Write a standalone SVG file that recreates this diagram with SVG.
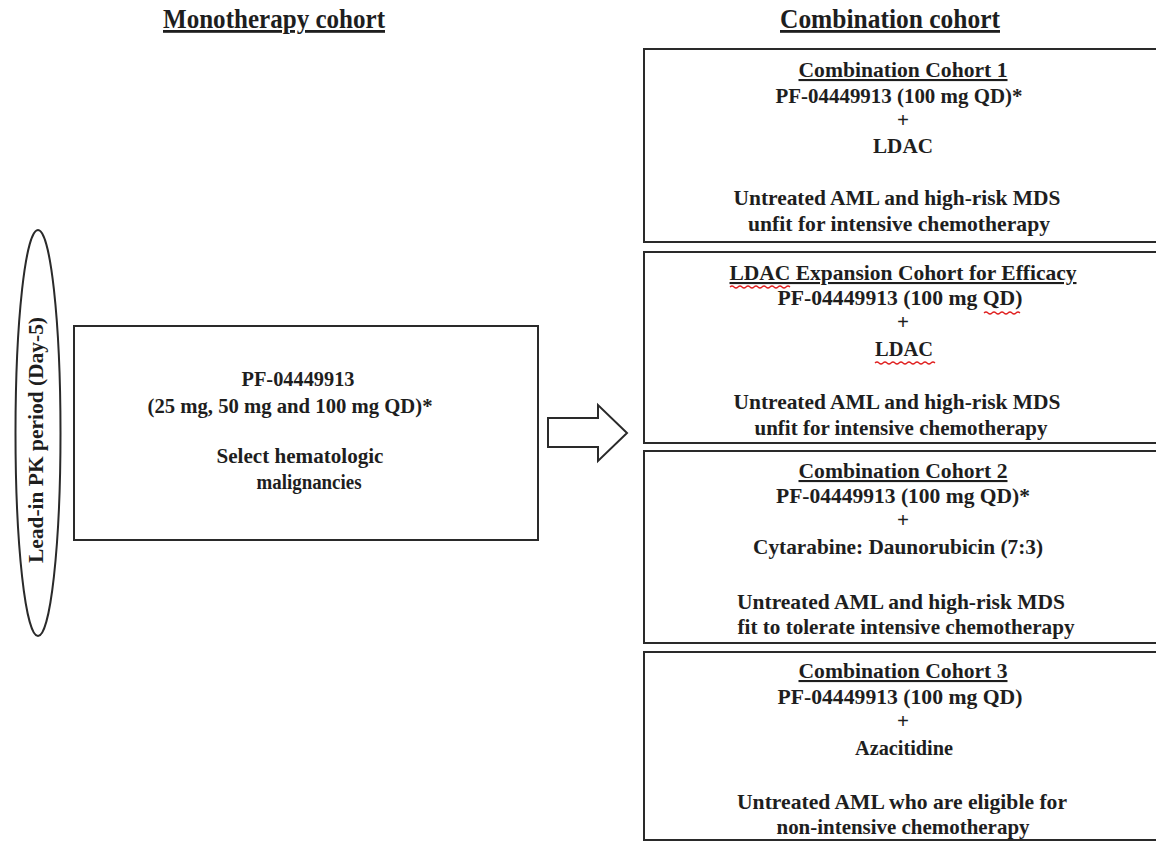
<svg xmlns="http://www.w3.org/2000/svg" width="1156" height="842" viewBox="0 0 1156 842">
  <style>
    .bg { fill: #ffffff; }
    .box { fill: #ffffff; stroke: #2a2a2a; stroke-width: 2; }
    .t { font-family: "Liberation Serif", "Times New Roman", serif; font-weight: bold; fill: #1e1e1e; text-anchor: middle; font-size: 21px; }
    .m { font-size: 20.5px; }
    .head { font-size: 28px; text-decoration: underline; }
    .sub { text-decoration: underline; }
    .spell { fill: none; stroke: #e02020; stroke-width: 1.2; }
  </style>

  <rect class="bg" x="0" y="0" width="1156" height="842"/>

  <!-- column headings -->
  <g id="headings">
    <text class="t head" x="274" y="28" textLength="222" lengthAdjust="spacingAndGlyphs">Monotherapy cohort</text>
    <text class="t head" x="890" y="28" textLength="220" lengthAdjust="spacingAndGlyphs">Combination cohort</text>
  </g>

  <!-- lead-in period ellipse -->
  <g id="lead-in">
    <ellipse class="box" cx="38" cy="433" rx="22.5" ry="203"/>
    <text class="t" transform="translate(43 440) rotate(-90)" font-size="17" textLength="246" lengthAdjust="spacingAndGlyphs">Lead-in PK period (Day-5)</text>
  </g>

  <!-- monotherapy box -->
  <g id="monotherapy">
    <rect class="box" x="74" y="326" width="464" height="214"/>
    <text class="t m" x="298" y="386" textLength="113" lengthAdjust="spacingAndGlyphs">PF-04449913</text>
    <text class="t m" x="290" y="413" textLength="285" lengthAdjust="spacingAndGlyphs">(25 mg, 50 mg and 100 mg QD)*</text>
    <text class="t m" x="300" y="463" textLength="167" lengthAdjust="spacingAndGlyphs">Select hematologic</text>
    <text class="t m" x="309" y="489" textLength="105" lengthAdjust="spacingAndGlyphs">malignancies</text>
  </g>

  <!-- block arrow between cohorts -->
  <g id="connectors">
    <path class="box" d="M548 418 H598 V405 L627 433 L598 461 V447 H548 Z"/>
  </g>

  <!-- combination cohort 1 -->
  <g id="cohort-1">
    <rect class="box" x="644" y="49" width="520" height="193"/>
    <text class="t sub" x="903" y="77" textLength="209" lengthAdjust="spacingAndGlyphs">Combination Cohort 1</text>
    <text class="t" x="899" y="103" textLength="247" lengthAdjust="spacingAndGlyphs">PF-04449913 (100 mg QD)*</text>
    <text class="t" x="903" y="127">+</text>
    <text class="t" x="903" y="153" textLength="60" lengthAdjust="spacingAndGlyphs">LDAC</text>
    <text class="t" x="897" y="205" textLength="327" lengthAdjust="spacingAndGlyphs">Untreated AML and high-risk MDS</text>
    <text class="t" x="899" y="231" textLength="302" lengthAdjust="spacingAndGlyphs">unfit for intensive chemotherapy</text>
  </g>

  <!-- LDAC expansion cohort -->
  <g id="ldac-expansion">
    <rect class="box" x="644" y="252" width="520" height="191"/>
    <text class="t sub" x="903" y="280" textLength="347" lengthAdjust="spacingAndGlyphs">LDAC Expansion Cohort for Efficacy</text>
    <text class="t" x="900" y="305" textLength="245" lengthAdjust="spacingAndGlyphs">PF-04449913 (100 mg QD)</text>
    <text class="t" x="903" y="329">+</text>
    <text class="t" x="904" y="356" textLength="58" lengthAdjust="spacingAndGlyphs">LDAC</text>
    <text class="t" x="897" y="409" textLength="327" lengthAdjust="spacingAndGlyphs">Untreated AML and high-risk MDS</text>
    <text class="t" x="901" y="435" textLength="293" lengthAdjust="spacingAndGlyphs">unfit for intensive chemotherapy</text>
    <path class="spell" d="M730 287 q2 -2 4 0 t4 0 t4 0 t4 0 t4 0 t4 0 t4 0 t4 0 t4 0 t4 0 t4 0 t4 0 t4 0 t4 0 t4 0"/>
    <path class="spell" d="M984 313 q2 -2 4 0 t4 0 t4 0 t4 0 t4 0 t4 0 t4 0 t4 0 t4 0"/>
    <path class="spell" d="M875 363 q2 -2 4 0 t4 0 t4 0 t4 0 t4 0 t4 0 t4 0 t4 0 t4 0 t4 0 t4 0 t4 0 t4 0 t4 0 t4 0"/>
  </g>

  <!-- combination cohort 2 -->
  <g id="cohort-2">
    <rect class="box" x="644" y="451" width="520" height="192"/>
    <text class="t sub" x="903" y="478" textLength="209" lengthAdjust="spacingAndGlyphs">Combination Cohort 2</text>
    <text class="t" x="903" y="503" textLength="254" lengthAdjust="spacingAndGlyphs">PF-04449913 (100 mg QD)*</text>
    <text class="t" x="903" y="527">+</text>
    <text class="t" x="898" y="554" textLength="290" lengthAdjust="spacingAndGlyphs">Cytarabine: Daunorubicin (7:3)</text>
    <text class="t" x="901" y="609" textLength="328" lengthAdjust="spacingAndGlyphs">Untreated AML and high-risk MDS</text>
    <text class="t" x="906" y="634" textLength="337" lengthAdjust="spacingAndGlyphs">fit to tolerate intensive chemotherapy</text>
  </g>

  <!-- combination cohort 3 -->
  <g id="cohort-3">
    <rect class="box" x="644" y="652" width="520" height="188"/>
    <text class="t sub" x="903" y="678" textLength="209" lengthAdjust="spacingAndGlyphs">Combination Cohort 3</text>
    <text class="t" x="900" y="704" textLength="245" lengthAdjust="spacingAndGlyphs">PF-04449913 (100 mg QD)</text>
    <text class="t" x="903" y="728">+</text>
    <text class="t" x="904" y="755" textLength="98" lengthAdjust="spacingAndGlyphs">Azacitidine</text>
    <text class="t" x="902" y="809" textLength="330" lengthAdjust="spacingAndGlyphs">Untreated AML who are eligible for</text>
    <text class="t" x="903" y="834" textLength="253" lengthAdjust="spacingAndGlyphs">non-intensive chemotherapy</text>
  </g>
</svg>
